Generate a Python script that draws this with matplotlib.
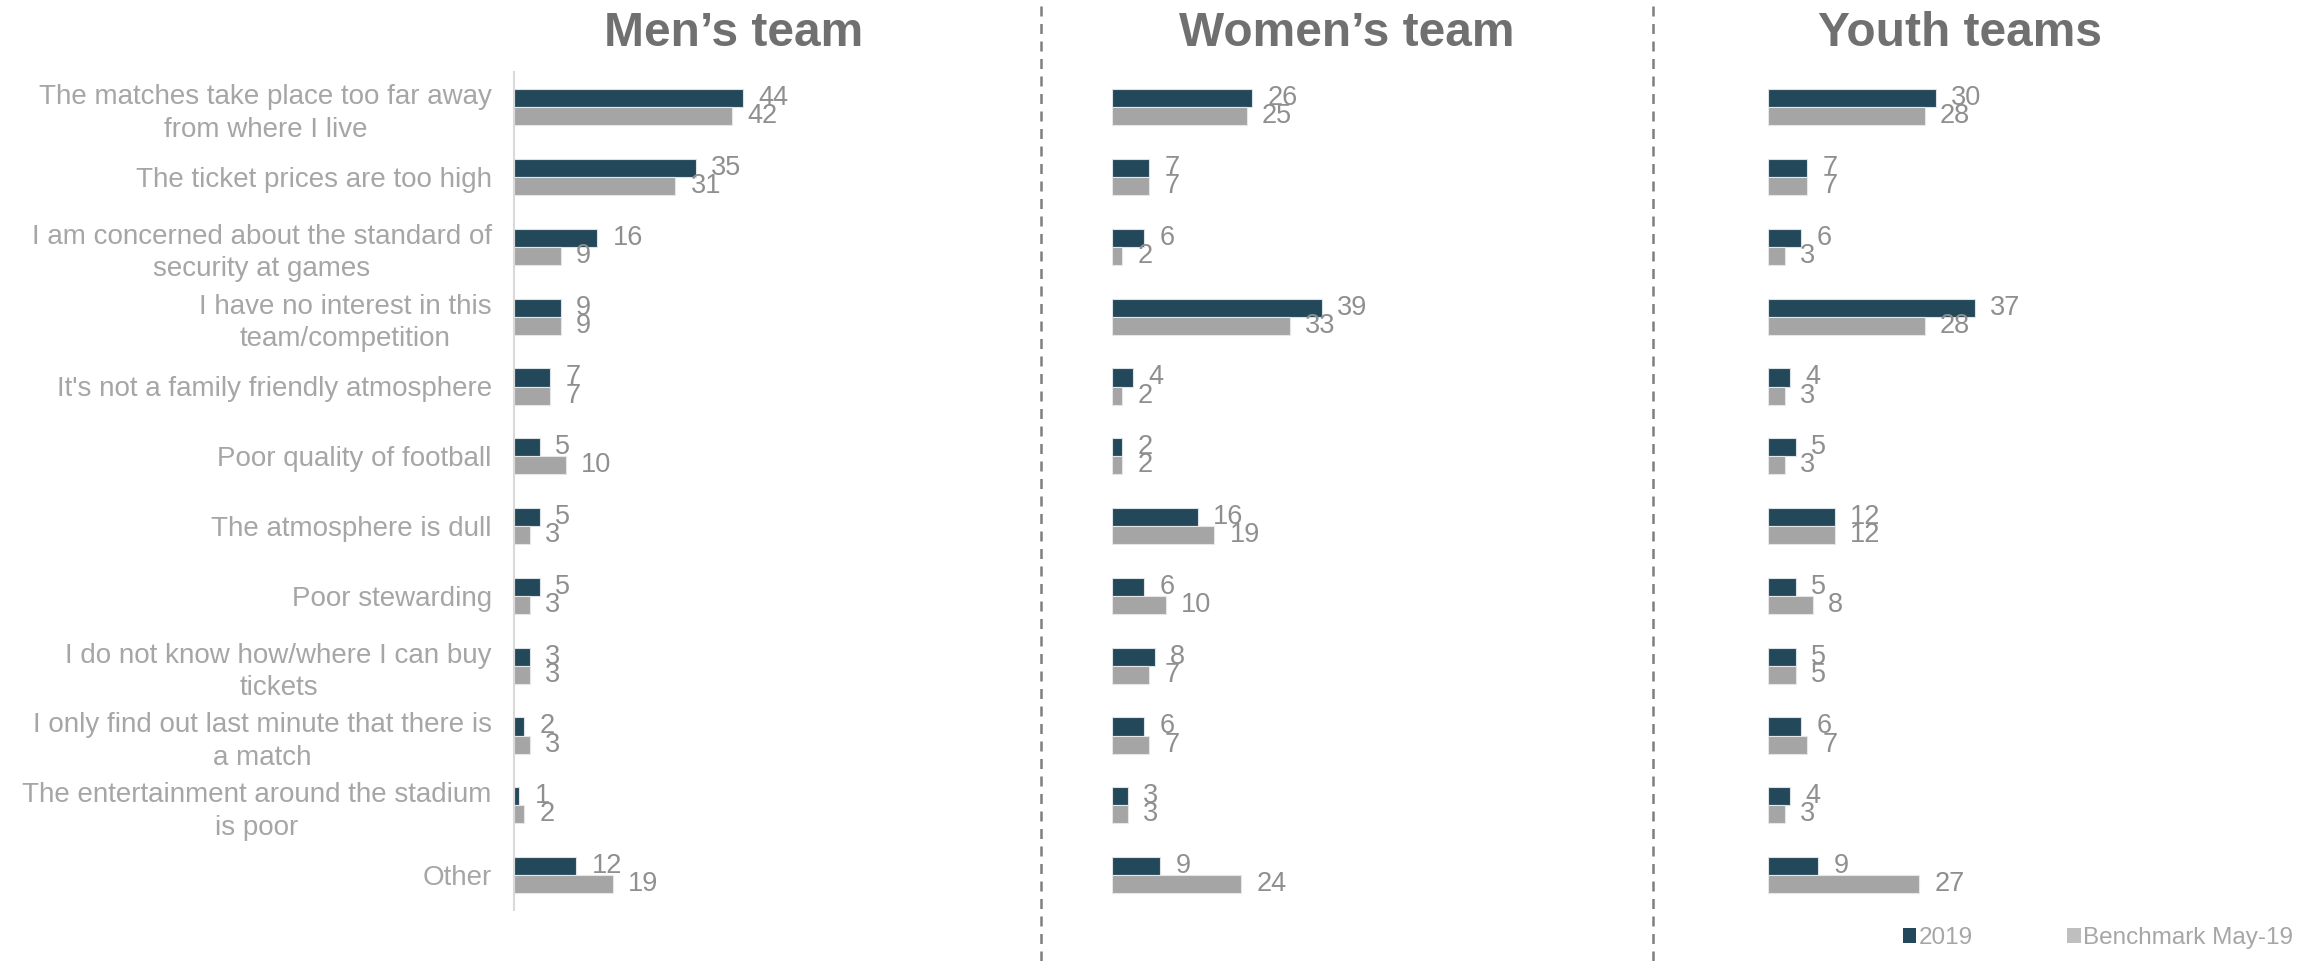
import matplotlib
matplotlib.use("Agg")
import matplotlib.pyplot as plt
from matplotlib.patches import Patch
from matplotlib.lines import Line2D

categories = [
    "The matches take place too far away\nfrom where I live",
    "The ticket prices are too high",
    "I am concerned about the standard of\nsecurity at games",
    "I have no interest in this\nteam/competition",
    "It's not a family friendly atmosphere",
    "Poor quality of football",
    "The atmosphere is dull",
    "Poor stewarding",
    "I do not know how/where I can buy\ntickets",
    "I only find out last minute that there is\na match",
    "The entertainment around the stadium\nis poor",
    "Other",
]
panel_titles = ["Men\u2019s team", "Women\u2019s team", "Youth teams"]
series_names = ["2019", "Benchmark May-19"]

men_2019 = [44, 35, 16, 9, 7, 5, 5, 5, 3, 2, 1, 12]
men_bench = [42, 31, 9, 9, 7, 10, 3, 3, 3, 3, 2, 19]
women_2019 = [26, 7, 6, 39, 4, 2, 16, 6, 8, 6, 3, 9]
women_bench = [25, 7, 2, 33, 2, 2, 19, 10, 7, 7, 3, 24]
youth_2019 = [30, 7, 6, 37, 4, 5, 12, 5, 5, 6, 4, 9]
youth_bench = [28, 7, 3, 28, 3, 3, 12, 8, 5, 7, 3, 27]

panels = [(men_2019, men_bench), (women_2019, women_bench), (youth_2019, youth_bench)]

DARK = "#22485A"
GREY = "#A5A5A5"
LEG_GREY = "#BFBFBF"
CAT_COL = "#A6A6A6"
VAL_COL = "#8F8F8F"
TITLE_COL = "#707070"
FONT = ["Liberation Sans", "DejaVu Sans"]

W, H = 2318, 961
fig = plt.figure(figsize=(W / 100, H / 100), dpi=100)

# axes geometry in pixels: (left, px per unit)
geom = [(514, 5.2), (1111.5, 5.4), (1767.7, 5.6)]
ax_w_px = 500
top_px, bot_px = 72.4, 910
title_cx = [734, 1347, 1960]

n = len(categories)
ys = list(range(n))
bh = 0.26

for i, ((v1, v2), (lpx, ppu)) in enumerate(zip(panels, geom)):
    ax = fig.add_axes([lpx / W, 1 - bot_px / H, ax_w_px / W, (bot_px - top_px) / H])
    ax.barh([y - bh / 2 for y in ys], v1, height=bh, color=DARK,
            edgecolor="#DCE3E8", linewidth=0.8)
    ax.barh([y + bh / 2 for y in ys], v2, height=bh, color=GREY,
            edgecolor="#E6E6E6", linewidth=0.8)
    for y, a, b in zip(ys, v1, v2):
        ax.annotate(str(a), (a, y - bh / 2), xytext=(11, 0), textcoords="offset points",
                    va="center", ha="left", fontsize=19.5, color=VAL_COL, family=FONT)
        ax.annotate(str(b), (b, y + bh / 2), xytext=(11, 0), textcoords="offset points",
                    va="center", ha="left", fontsize=19.5, color=VAL_COL, family=FONT)
    ax.set_xlim(0, ax_w_px / ppu)
    ax.set_ylim(n - 0.5, -0.5)
    ax.set_xticks([])
    for s in ["top", "right", "bottom"]:
        ax.spines[s].set_visible(False)
    if i == 0:
        ax.spines["left"].set_color("#D9D9D9")
        ax.spines["left"].set_linewidth(1.5)
        ax.set_yticks(ys)
        ax.set_yticklabels(categories, fontsize=20, color=CAT_COL, family=FONT)
        for lab in ax.get_yticklabels():
            lab.set_multialignment("center")
            lab.set_linespacing(1.32)
        ax.tick_params(axis="y", length=0, pad=16)
    else:
        ax.spines["left"].set_visible(False)
        ax.set_yticks([])
    ax.patch.set_alpha(0)
    fig.text(title_cx[i] / W, 1 - 33 / H, panel_titles[i], ha="center", va="center",
             fontsize=34.5, fontweight="bold", color=TITLE_COL, family=FONT)

# dashed separators
for xpx in [1040.5, 1652.5]:
    fig.add_artist(Line2D([xpx / W, xpx / W], [0, 1], transform=fig.transFigure,
                          color="#7F7F7F", linestyle=(0, (4, 3)), linewidth=1.8))

handles = [Patch(facecolor=DARK), Patch(facecolor=LEG_GREY)]
leg = fig.legend(handles, series_names, loc="center left",
                 bbox_to_anchor=(1903 / W, 1 - 938 / H), ncol=2, frameon=False,
                 borderpad=0, borderaxespad=0,
                 handlelength=0.55, handleheight=0.55, handletextpad=0.08,
                 columnspacing=3.9, prop={"family": FONT, "size": 17.5})
for t in leg.get_texts():
    t.set_color(CAT_COL)

fig.savefig("out.png", dpi=100)
